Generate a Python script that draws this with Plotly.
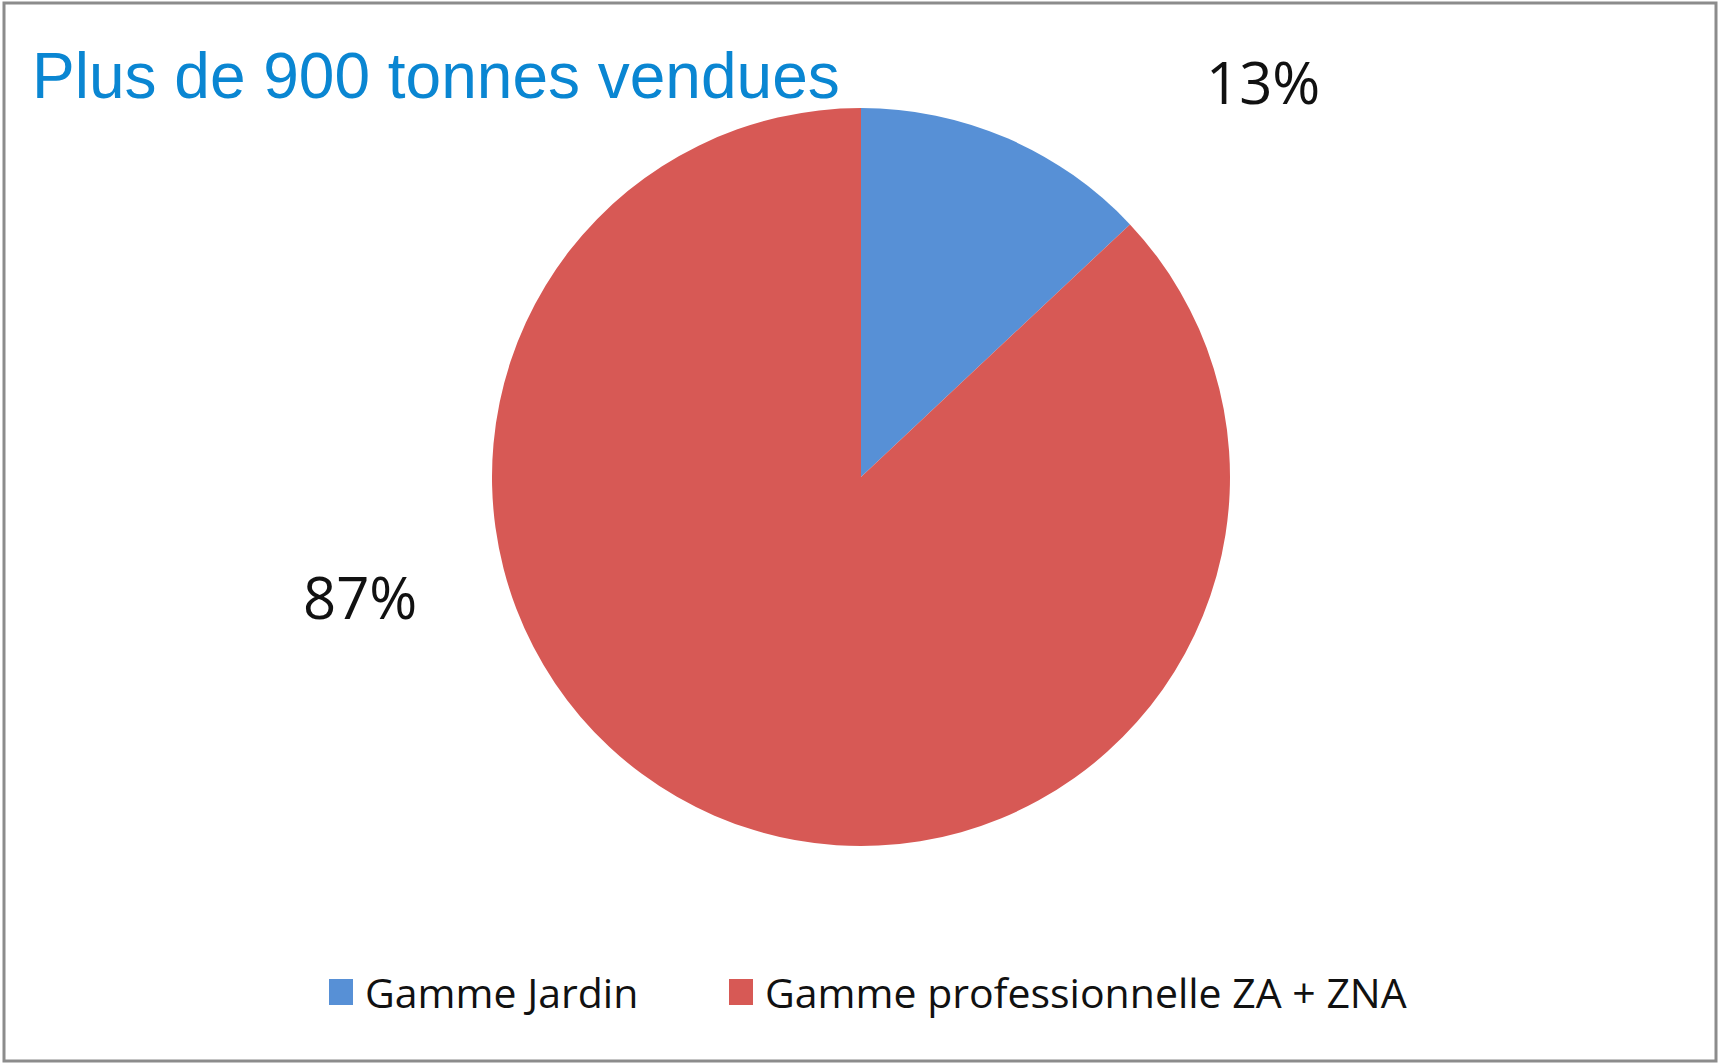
import plotly.graph_objects as go

categories = ["Gamme Jardin", "Gamme professionnelle ZA + ZNA"]
values = [13, 87]
colors = ["#5790d6", "#d75955"]
title_text = "Plus de 900 tonnes vendues"

total = sum(values)
pct_labels = [f"{v / total:.0%}" for v in values]

W, H = 1720, 1064

fig = go.Figure()
fig.add_trace(go.Pie(
    labels=categories,
    values=values,
    marker=dict(colors=colors, line=dict(width=0)),
    sort=False,
    direction="clockwise",
    rotation=0,
    textinfo="none",
    hoverinfo="label+percent",
    showlegend=False,
    domain=dict(x=[(861 - 369) / W, (861 + 369) / W],
                y=[1 - 846 / H, 1 - 108 / H]),
))

# percent labels placed like the original (outside, no leader lines)
label_pos = [(1263, 82), (360, 596)]
for txt, (px, py) in zip(pct_labels, label_pos):
    fig.add_annotation(
        x=px / W, y=1 - py / H, xref="paper", yref="paper",
        text=txt, showarrow=False, xanchor="center", yanchor="middle",
        font=dict(family="Open Sans", size=58, color="#111111"),
    )

fig.add_annotation(
    x=30 / W, y=1 - 76 / H, xref="paper", yref="paper",
    text=title_text, showarrow=False, xanchor="left", yanchor="middle",
    font=dict(family="Liberation Sans", size=64, color="#0a86d2"),
)

# legend drawn by hand (big square swatches like the original)
legend_x = [329, 729]
legend_y = 992
for name, col, lx in zip(categories, colors, legend_x):
    fig.add_shape(type="rect", xref="paper", yref="paper",
                  x0=lx / W, x1=(lx + 24) / W,
                  y0=1 - (legend_y + 13) / H, y1=1 - (legend_y - 13) / H,
                  fillcolor=col, line=dict(width=0))
    fig.add_annotation(
        x=(lx + 34) / W, y=1 - legend_y / H, xref="paper", yref="paper",
        text=name, showarrow=False, xanchor="left", yanchor="middle",
        font=dict(family="Open Sans", size=41, color="#111111"),
    )

# outer frame
fig.add_shape(type="rect", xref="paper", yref="paper",
              x0=4 / W, x1=1716 / W, y0=1 - 1061 / H, y1=1 - 3 / H,
              line=dict(color="#8c8c8c", width=3))

fig.update_layout(
    width=W, height=H,
    margin=dict(l=0, r=0, t=0, b=0),
    paper_bgcolor="white",
    plot_bgcolor="white",
    showlegend=False,
)

fig.write_html("out.html", config={"displayModeBar": False},
               post_script="document.body.style.margin='0';")
